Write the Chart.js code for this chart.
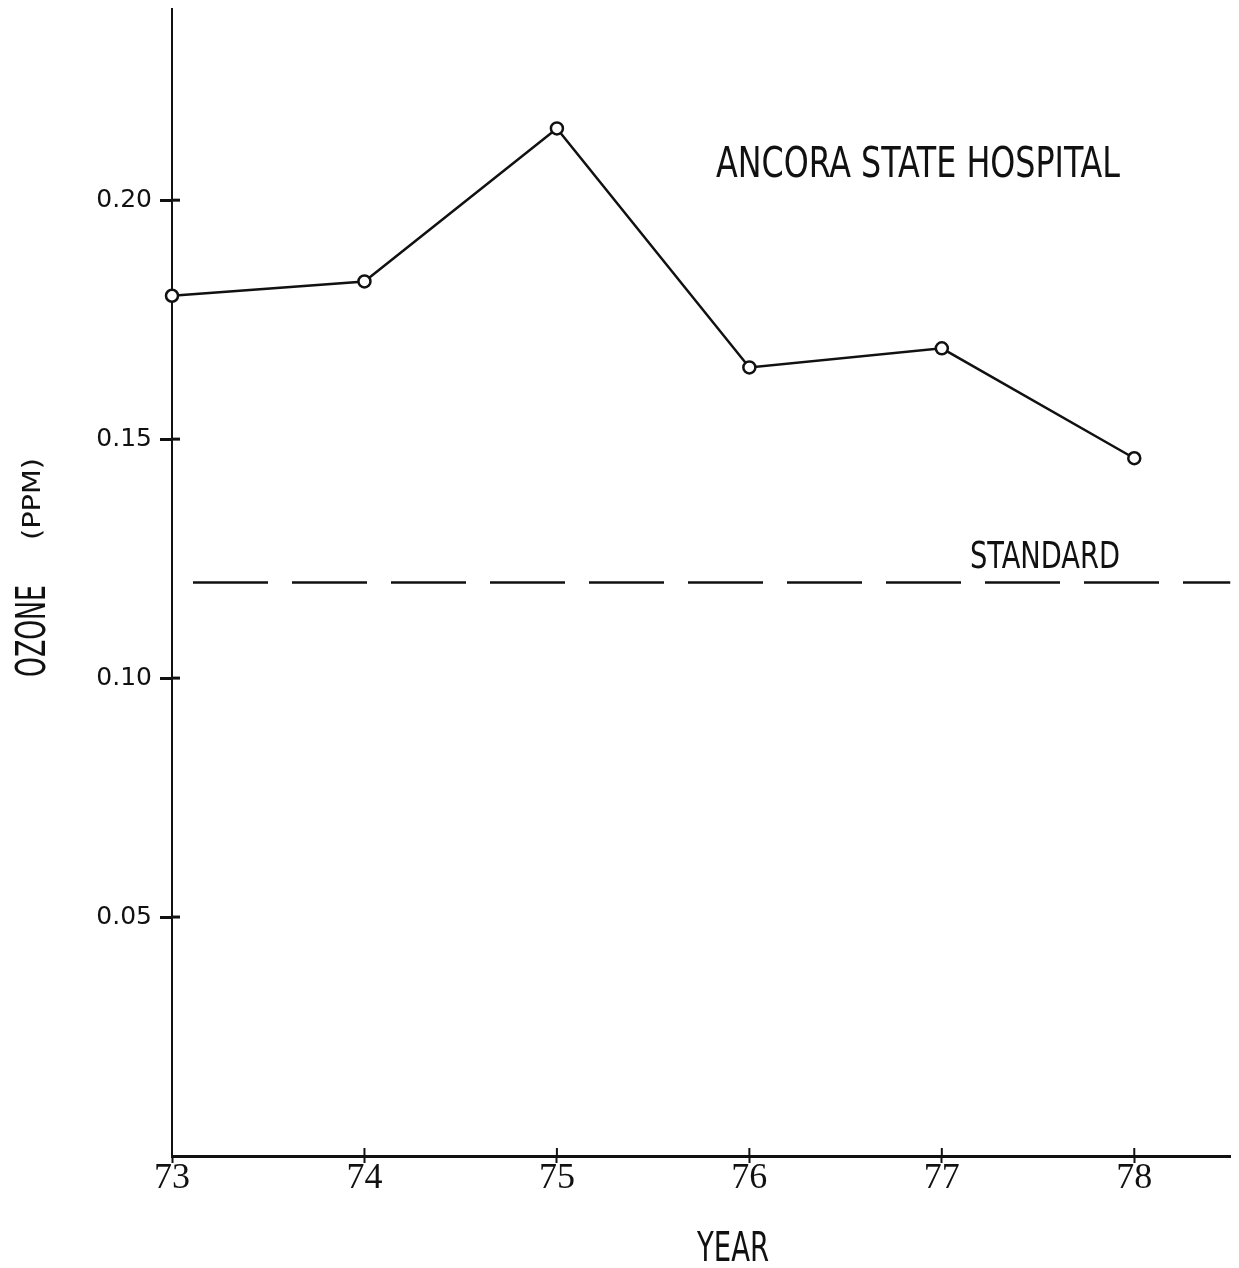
<!DOCTYPE html>
<html>
<head>
<meta charset="utf-8">
<script src="https://cdn.jsdelivr.net/npm/chart.js@4/dist/chart.umd.min.js"></script>
<style>
  html, body { margin: 0; padding: 0; background: #fff; }
  canvas { display: block; }
</style>
</head>
<body>
<canvas id="chart" width="1239" height="1268"></canvas>
<script>
const years = [73, 74, 75, 76, 77, 78];
const ozone = [0.180, 0.183, 0.215, 0.165, 0.169, 0.146];
const standardLevel = 0.12;
const yTicks = [0.05, 0.10, 0.15, 0.20];
const xTicks = [73, 74, 75, 76, 77, 78];

const ink = "#111";
const stencil = "'DejaVu Sans Condensed', 'DejaVu Sans', sans-serif";

// text squeezed to a given width (narrow stencil lettering on the original)
function fitText(ctx, text, x, y, width, font, rotate) {
  ctx.save();
  ctx.font = font;
  ctx.fillStyle = ink;
  ctx.textBaseline = "alphabetic";
  ctx.textAlign = "left";
  const w = ctx.measureText(text).width;
  ctx.translate(x, y);
  if (rotate) ctx.rotate(-Math.PI / 2);
  ctx.scale(width / w, 1);
  ctx.fillText(text, 0, 0);
  ctx.restore();
}

const extras = {
  id: "extras",
  afterDraw(chart) {
    const ctx = chart.ctx;
    const xs = chart.scales.x, ys = chart.scales.y;
    const area = chart.chartArea;

    // tick marks crossing into the plot
    ctx.save();
    ctx.strokeStyle = ink;
    ctx.lineWidth = 3;
    yTicks.forEach(v => {
      const py = ys.getPixelForValue(v);
      ctx.beginPath();
      ctx.moveTo(area.left, py);
      ctx.lineTo(area.left + 8, py);
      ctx.stroke();
    });
    ctx.lineWidth = 2;
    xTicks.forEach(v => {
      const px = xs.getPixelForValue(v);
      ctx.beginPath();
      ctx.moveTo(px, area.bottom);
      ctx.lineTo(px, area.bottom - 8);
      ctx.stroke();
    });
    ctx.restore();

    fitText(ctx, "ANCORA STATE HOSPITAL", 716, 177, 404, "42px " + stencil);
    fitText(ctx, "STANDARD", 970, 568, 150, "37px " + stencil);
    fitText(ctx, "YEAR", 697, 1261, 72, "41px " + stencil);
    fitText(ctx, "OZONE", 45, 677, 92, "40px " + stencil, true);
    fitText(ctx, "(PPM)", 40, 540, 82, "24px 'DejaVu Sans', sans-serif", true);
  }
};

new Chart(document.getElementById("chart"), {
  type: "line",
  data: {
    datasets: [
      {
        data: years.map((yr, i) => ({ x: yr, y: ozone[i] })),
        borderColor: ink,
        borderWidth: 2.5,
        pointRadius: 6,
        pointBorderWidth: 2.5,
        pointBackgroundColor: "#fff",
        pointBorderColor: ink,
        tension: 0,
        clip: false
      },
      {
        data: [{ x: 73, y: standardLevel }, { x: 78.5, y: standardLevel }],
        borderColor: ink,
        borderWidth: 2.5,
        borderDash: [75, 24],
        borderDashOffset: 78,
        pointRadius: 0
      }
    ]
  },
  options: {
    responsive: false,
    animation: false,
    devicePixelRatio: 1,
    layout: { padding: { top: 9, right: -5, left: 0, bottom: 0 } },
    plugins: { legend: { display: false }, tooltip: { enabled: false } },
    scales: {
      x: {
        type: "linear",
        min: 73,
        max: 78.5,
        afterFit(scale) {
          scale.height = 112;
          scale.paddingLeft = 0;
          scale.paddingRight = 0;
        },
        afterBuildTicks(scale) { scale.ticks = xTicks.map(v => ({ value: v })); },
        grid: { drawOnChartArea: false, tickLength: 7, tickWidth: 2, color: ink },
        border: { color: ink, width: 3 },
        ticks: {
          color: ink,
          padding: -6,
          font: { family: "'Liberation Serif', serif", size: 36 },
          callback: v => String(v)
        }
      },
      y: {
        min: 0,
        max: 0.24,
        afterFit(scale) {
          scale.width = 172;
          scale.paddingTop = 0;
          scale.paddingBottom = 0;
        },
        afterBuildTicks(scale) { scale.ticks = yTicks.map(v => ({ value: v })); },
        grid: { drawOnChartArea: false, tickLength: 12, tickWidth: 3, color: ink },
        border: { color: ink, width: 2 },
        ticks: {
          color: ink,
          padding: 8,
          font: { family: "'DejaVu Sans', sans-serif", size: 25 },
          callback: v => v.toFixed(2)
        }
      }
    }
  },
  plugins: [extras]
});
</script>
</body>
</html>
